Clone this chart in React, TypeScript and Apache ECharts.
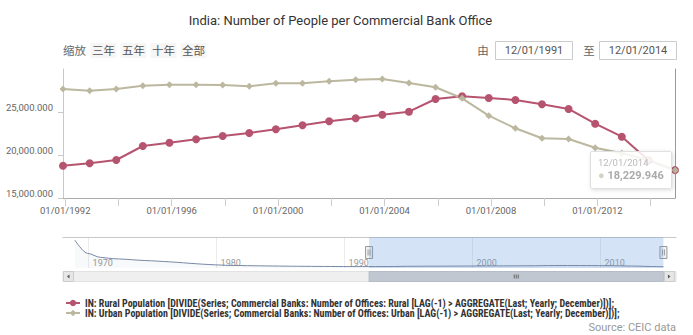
import React, { useEffect, useRef } from 'react';
import * as echarts from 'echarts';

const t = (y: number, m: number, d: number) => new Date(y, m, d).getTime();
const pad = (n: number) => (n < 10 ? '0' + n : '' + n);
const fmtDate = (v: number) => {
  const d = new Date(v);
  return pad(d.getMonth() + 1) + '/' + pad(d.getDate()) + '/' + d.getFullYear();
};
const fmtNum = (v: number) =>
  v.toLocaleString('en-US', { minimumFractionDigits: 3, maximumFractionDigits: 3 });

// ---- data ----
const TITLE = 'India: Number of People per Commercial Bank Office';
const RURAL_NAME =
  'IN: Rural Population [DIVIDE(Series; Commercial Banks: Number of Offices: Rural [LAG(-1) > AGGREGATE(Last; Yearly; December)])];';
const URBAN_NAME =
  'IN: Urban Population [DIVIDE(Series; Commercial Banks: Number of Offices: Urban [LAG(-1) > AGGREGATE(Last; Yearly; December)])];';

const years = [
  1991, 1992, 1993, 1994, 1995, 1996, 1997, 1998, 1999, 2000, 2001, 2002,
  2003, 2004, 2005, 2006, 2007, 2008, 2009, 2010, 2011, 2012, 2013, 2014,
];
const rural = [
  18756, 19035, 19419, 21047, 21430, 21826, 22210, 22558, 22989, 23454, 23919, 24268,
  24687, 25036, 26513, 26826, 26629, 26396, 25896, 25350, 23640, 22128, 19384, 18240,
];
const urban = [
  27676, 27478, 27676, 28059, 28176, 28176, 28140, 27990, 28339, 28339, 28571, 28757,
  28839, 28374, 27874, 26594, 24571, 23105, 21942, 21861, 20849, 20198, 19419, 18229.946,
];
// navigator history (rural), Dec 1968 .. Dec 1990
const navEarlyYears = [
  1968, 1969, 1970, 1971, 1972, 1973, 1974, 1975, 1976, 1977, 1978, 1979,
  1980, 1981, 1982, 1983, 1984, 1985, 1986, 1987, 1988, 1989, 1990,
];
const navEarlyRural = [
  220000, 119000, 89000, 78500, 74000, 67000, 62600, 57000, 51000, 43600, 37000, 32000,
  28000, 26500, 25000, 23800, 22500, 21500, 20700, 20000, 19500, 19000, 18700,
];
const yTickValues = [15000, 20000, 25000, 30000];
const xLabelYears = [1992, 1996, 2000, 2004, 2008, 2012];
const xTickYears = [1992, 1994, 1996, 1998, 2000, 2002, 2004, 2006, 2008, 2010, 2012, 2014];
const navLabelYears = [1970, 1980, 1990, 2000, 2010];
const rangeButtons = ['三年', '五年', '十年', '全部'];
const zoomLabel = '缩放';
const fromLabel = '由';
const toLabel = '至';
const SOURCE = 'Source: CEIC data';

const RURAL_COLOR = '#b65470';
const URBAN_COLOR = '#bcb89f';

export default function App() {
  const ref = useRef<HTMLDivElement>(null);
  useEffect(() => {
    if (!ref.current) return;
    const chart = echarts.init(ref.current, null, { renderer: 'svg' });
    const rangeStart = t(years[0], 11, 1);
    const rangeEnd = t(years[years.length - 1], 11, 1);
    const navMin = t(1968, 0, 1);
    const navMax = t(2015, 10, 25);
    const ruralData = years.map((y, i) => [t(y, 11, 1), rural[i]]);
    const urbanData = years.map((y, i) => [t(y, 11, 1), urban[i]]);
    const navData = [
      ...navEarlyYears.map((y, i) => [t(y, 11, 1), navEarlyRural[i]]),
      ...ruralData,
    ];

    const option: any = {
      animation: false,
      textStyle: { fontFamily: 'Roboto' },
      grid: [
        { left: 63, right: 18, top: 69, bottom: 137 },
        { left: 63, right: 17, top: 237, height: 31 },
      ],
      xAxis: [
        {
          type: 'value',
          gridIndex: 0,
          min: rangeStart,
          max: rangeEnd,
          axisLine: { show: true, lineStyle: { color: '#aaa', width: 1 } },
          axisTick: {
            show: true,
            length: 8,
            customValues: xTickYears.map((y) => t(y, 0, 1)),
            lineStyle: { color: '#ccc' },
          },
          axisLabel: {
            customValues: xLabelYears.map((y) => t(y, 0, 1)),
            formatter: (v: number) => fmtDate(v),
            color: '#666',
            fontSize: 9.5,
            margin: 7,
            hideOverlap: false,
          },
          splitLine: { show: false },
        },
        {
          type: 'value',
          gridIndex: 1,
          min: navMin,
          max: navMax,
          axisLine: { show: false },
          axisTick: { show: false, customValues: navLabelYears.map((y) => t(y, 0, 1)) },
          axisLabel: {
            inside: true,
            customValues: navLabelYears.map((y) => t(y, 0, 1)),
            formatter: (v: number) => '' + new Date(v).getFullYear(),
            color: '#999',
            fontSize: 9,
            align: 'left',
            verticalAlign: 'bottom',
            padding: [0, 0, 0, 4],
            margin: 1,
          },
          splitLine: { show: true, lineStyle: { color: '#ececec' } },
        },
        {
          type: 'value',
          gridIndex: 1,
          position: 'top',
          min: navMin,
          max: navMax,
          axisLine: { show: true, lineStyle: { color: '#c8c8c8' } },
          axisTick: { show: false },
          axisLabel: { show: false },
          splitLine: { show: false },
        },
      ],
      yAxis: [
        {
          type: 'value',
          gridIndex: 0,
          min: 15000,
          max: 30000,
          interval: 5000,
          axisLine: { show: true, lineStyle: { color: '#c8c8c8' } },
          axisTick: { show: true, length: 5, lineStyle: { color: '#c8c8c8' } },
          axisLabel: {
            showMaxLabel: false,
            formatter: (v: number) => fmtNum(v),
            verticalAlign: 'bottom',
            color: '#666',
            fontSize: 9.5,
            margin: 10,
          },
          splitLine: { show: false },
        },
        {
          type: 'value',
          gridIndex: 0,
          position: 'right',
          min: yTickValues[0],
          max: yTickValues[yTickValues.length - 1],
          axisLine: { show: true, lineStyle: { color: '#999' } },
          axisTick: { show: false },
          axisLabel: { show: false },
          splitLine: { show: false },
        },
        {
          type: 'value',
          gridIndex: 1,
          min: 8000,
          max: 243000,
          show: false,
          splitLine: { show: false },
        },
      ],
      legend: {
        data: [RURAL_NAME, URBAN_NAME],
        orient: 'vertical',
        left: 60,
        top: 293,
        itemWidth: 14,
        itemHeight: 8,
        itemGap: 0,
        textStyle: {
          fontSize: 10,
          lineHeight: 10,
          fontWeight: 'bold',
          color: '#333',
          fontFamily: "'Liberation Sans Narrow', 'Roboto Condensed', Roboto",
        },
        selectedMode: false,
      },
      tooltip: {
        trigger: 'item',
        triggerOn: 'none',
        alwaysShowContent: true,
        backgroundColor: 'rgba(255,255,255,0.85)',
        borderColor: '#e0e0e0',
        borderWidth: 1,
        padding: [5, 7],
        extraCssText: 'box-shadow: 1px 1px 4px rgba(0,0,0,0.15); border-radius: 2px;',
        position: (point: number[]) => [point[0] - 85, point[1] - 19],
        formatter: (p: any) =>
          `<div style="font-family:Roboto;font-size:9.5px;color:#bbb;line-height:12px">${fmtDate(
            p.value[0]
          )}</div><div style="font-family:Roboto;font-size:11px;font-weight:bold;color:#aaa;line-height:14px"><span style="color:#d6d2c2">●</span> ${fmtNum(
            p.value[1]
          )}</div>`,
      },
      series: [
        {
          name: RURAL_NAME,
          type: 'line',
          xAxisIndex: 0,
          yAxisIndex: 0,
          data: ruralData,
          symbol: 'circle',
          symbolSize: 8,
          lineStyle: { color: RURAL_COLOR, width: 2 },
          itemStyle: { color: RURAL_COLOR },
        },
        {
          name: URBAN_NAME,
          type: 'line',
          xAxisIndex: 0,
          yAxisIndex: 0,
          data: urbanData,
          symbol: 'diamond',
          symbolSize: 7,
          lineStyle: { color: URBAN_COLOR, width: 2 },
          itemStyle: { color: URBAN_COLOR },
        },
        {
          name: 'navigator',
          type: 'line',
          xAxisIndex: 1,
          yAxisIndex: 2,
          data: navData,
          smooth: 0.3,
          smoothMonotone: 'x',
          showSymbol: false,
          silent: true,
          lineStyle: { color: '#7889a5', width: 1 },
          areaStyle: { color: 'rgba(69,114,167,0.06)' },
          markArea: {
            silent: true,
            itemStyle: { color: 'rgba(102,153,221,0.28)' },
            data: [[{ xAxis: rangeStart }, { xAxis: rangeEnd }]],
          },
        },
      ],
    };
    chart.setOption(option);

    const pL = chart.convertToPixel({ xAxisIndex: 1 }, rangeStart) as number;
    const pR = chart.convertToPixel({ xAxisIndex: 1 }, rangeEnd) as number;
    const navLeft = 63;
    const navRight = 676;

    const txt = (x: number, y: number, text: string, size: number, color: string, align = 'left', family = 'Roboto', weight = 'normal') => ({
      type: 'text',
      x,
      y,
      style: {
        text,
        fill: color,
        font: `${weight} ${size}px ${family}`,
        textAlign: align,
        textVerticalAlign: 'middle',
      },
    });

    const handle = (x: number) => ({
      type: 'group',
      children: [
        { type: 'rect', shape: { x: x - 3.5, y: 246.5, width: 7, height: 12 }, style: { fill: '#f2f2f2', stroke: '#999', lineWidth: 1 } },
        { type: 'line', shape: { x1: x - 1, y1: 249.5, x2: x - 1, y2: 255.5 }, style: { stroke: '#999', lineWidth: 1 } },
        { type: 'line', shape: { x1: x + 1, y1: 249.5, x2: x + 1, y2: 255.5 }, style: { stroke: '#999', lineWidth: 1 } },
      ],
    });

    const gMid = (pL + pR) / 2;
    const graphics: any[] = [
      txt(340.5, 20, TITLE, 13, '#333', 'center'),
      txt(74.5, 50, zoomLabel, 11.5, '#666', 'center', "'Noto Sans CJK SC'"),
      ...rangeButtons.flatMap((b, i) => [
        { type: 'rect', shape: { x: 90.5 + i * 30, y: 43, width: 26, height: 15 }, style: { fill: '#f6f6f6' } },
        txt(103.5 + i * 30, 50, b, 11.5, '#555', 'center', "'Noto Sans CJK SC'"),
      ]),
      txt(483, 50, fromLabel, 11.5, '#666', 'center', "'Noto Sans CJK SC'"),
      { type: 'rect', shape: { x: 495.5, y: 41.5, width: 77, height: 18 }, style: { fill: '#fff', stroke: '#ccc', lineWidth: 1 } },
      txt(534, 50.5, fmtDate(rangeStart), 11, '#555', 'center'),
      txt(589, 50, toLabel, 11.5, '#666', 'center', "'Noto Sans CJK SC'"),
      { type: 'rect', shape: { x: 599.5, y: 41.5, width: 77, height: 18 }, style: { fill: '#fff', stroke: '#ccc', lineWidth: 1 } },
      txt(638, 50.5, fmtDate(rangeEnd), 11, '#555', 'center'),
      // scrollbar track
      { type: 'rect', shape: { x: navLeft, y: 271.5, width: navRight - navLeft, height: 10 }, style: { fill: '#efefef', stroke: '#e2e2e2', lineWidth: 1 } },
      // thumb
      { type: 'rect', shape: { x: pL, y: 271.5, width: pR - pL, height: 10 }, style: { fill: '#c0c7d0', stroke: '#b5bcc6', lineWidth: 1 } },
      { type: 'line', shape: { x1: gMid - 2, y1: 274.5, x2: gMid - 2, y2: 278.5 }, style: { stroke: '#666', lineWidth: 1 } },
      { type: 'line', shape: { x1: gMid, y1: 274.5, x2: gMid, y2: 278.5 }, style: { stroke: '#666', lineWidth: 1 } },
      { type: 'line', shape: { x1: gMid + 2, y1: 274.5, x2: gMid + 2, y2: 278.5 }, style: { stroke: '#666', lineWidth: 1 } },
      // buttons
      { type: 'rect', shape: { x: navLeft + 0.5, y: 271.5, width: 10, height: 10 }, style: { fill: '#e6e6e6', stroke: '#ccc', lineWidth: 1 } },
      { type: 'polygon', shape: { points: [[navLeft + 6.5, 274.5], [navLeft + 6.5, 278.5], [navLeft + 4, 276.5]] }, style: { fill: '#555' } },
      { type: 'rect', shape: { x: pR + 1, y: 271.5, width: 10, height: 10 }, style: { fill: '#e6e6e6', stroke: '#ccc', lineWidth: 1 } },
      { type: 'polygon', shape: { points: [[pR + 4.5, 274.5], [pR + 4.5, 278.5], [pR + 7, 276.5]] }, style: { fill: '#555' } },
      handle(pL),
      handle(pR),
      txt(676, 327, SOURCE, 11, '#999', 'right'),
    ];
    chart.setOption({ graphic: { elements: graphics } });
    chart.dispatchAction({ type: 'showTip', seriesIndex: 1, dataIndex: years.length - 1 });

    return () => chart.dispose();
  }, []);
  return (
    <div
      ref={ref}
      style={{ position: 'absolute', left: 0, top: 0, width: 693, height: 335, background: '#fff' }}
    />
  );
}
